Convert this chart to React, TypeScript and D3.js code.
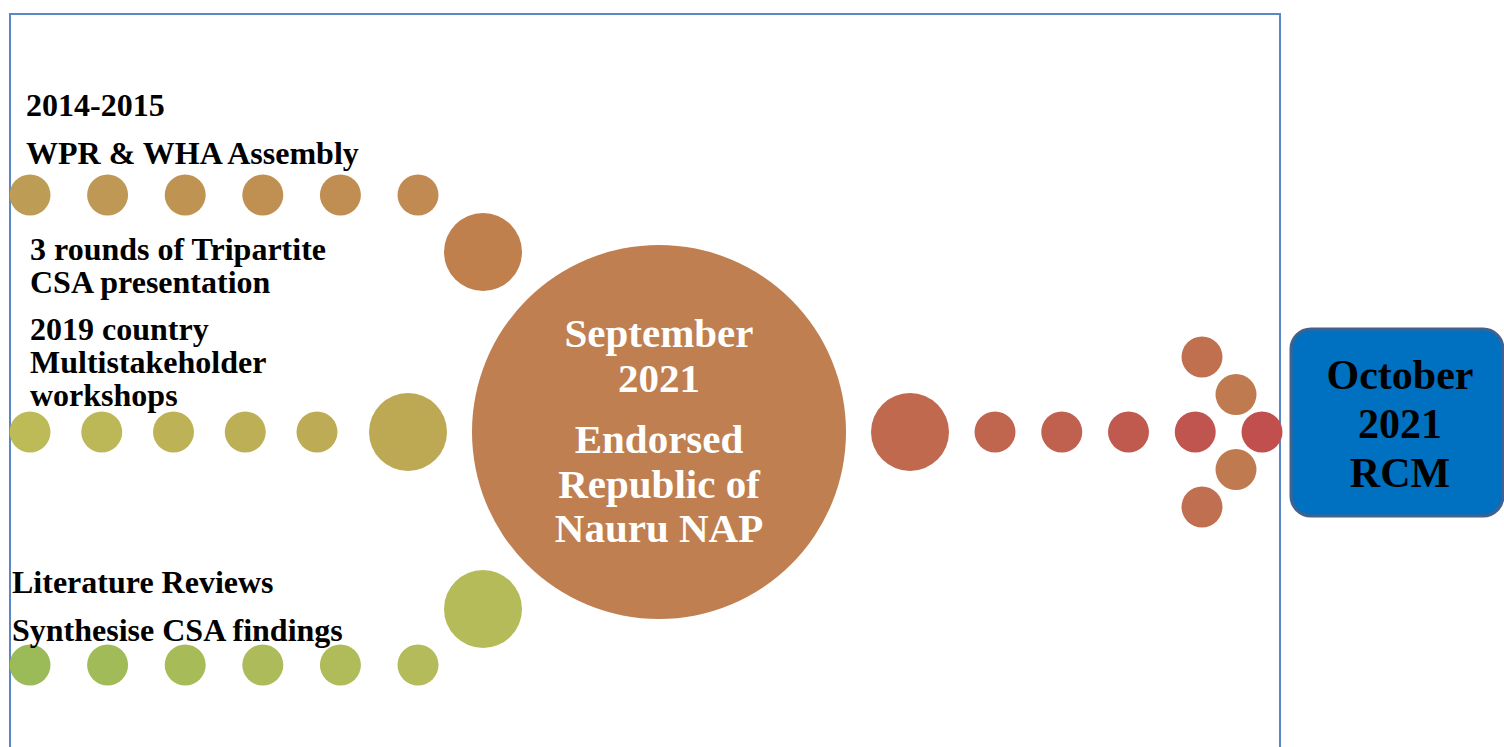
import React from "react";
import * as d3 from "d3";

// stage labels (left side, top to bottom)
const topLabels = ["2014-2015", "WPR & WHA Assembly"];
const upperLabels = ["3 rounds of Tripartite", "CSA presentation"];
const middleLabels = ["2019 country", "Multistakeholder", "workshops"];
const bottomLabels = ["Literature Reviews", "Synthesise CSA findings"];
const centerDate = ["September", "2021"];
const centerLabels = ["Endorsed", "Republic of", "Nauru NAP"];
const outcomeLabels = ["October", "2021", "RCM"];

// dot steps per track
const rows = ["top", "middle", "bottom"];
const topSteps = [0, 1, 2, 3, 4, 5];
const middleSteps = [0, 1, 2, 3, 4];
const bottomSteps = [0, 1, 2, 3, 4, 5];
const rightSteps = [0, 1, 2, 3, 4];
const arrowSteps = [-2, -1, 1, 2];

// colours
const topColors = ["#bd9c55", "#be9854", "#bf9453", "#c09053", "#c08d53", "#c18a53"];
const middleColors = ["#bcbb58", "#bcb757", "#bdb356", "#bdaf56", "#bdab55"];
const bottomColors = ["#9bbb59", "#a1bb59", "#a7bb59", "#adbb5a", "#b0bb5a", "#b3bb5a"];
const rightColors = ["#c0654e", "#c0604e", "#c05a4f", "#c0544e", "#c04f4d"];
const arrowColors = ["#c0704f", "#c07a50", "#c07a50", "#c07050"];

const W = 1504;
const H = 747;
const font = "'Liberation Serif', 'Times New Roman', serif";

export default function App() {
  const rowY = d3.scaleOrdinal<string, number>().domain(rows).range([195, 432, 665]);
  const xTop = d3.scaleLinear().domain([0, 5]).range([30, 418]);
  const xMid = d3.scaleLinear().domain([0, 4]).range([30, 317]);
  const xRight = d3.scaleLinear().domain([0, 4]).range([995, 1262]);
  const arrowDy = d3.scaleLinear().domain([-2, 2]).range([-75, 75]);
  const arrowDx = (s: number) => (Math.abs(s) === 2 ? -60 : -26);

  const cy = rowY("middle");
  const small = 20.5;
  const big = 39;
  const hub = 187;
  const hubX = 659;

  const lines = (arr: string[], x: number, y0: number, dy: number, size: number, fill = "#000", anchor = "start") =>
    arr.map((t, i) => (
      <text key={t + i} x={x} y={y0 + i * dy} fontFamily={font} fontWeight="bold" fontSize={size}
        fill={fill} textAnchor={anchor}>{t}</text>
    ));

  return (
    <svg width={W} height={H} style={{ position: "absolute", left: 0, top: 0, background: "#fff" }}>
      <rect x={10} y={14} width={1270} height={760} fill="none" stroke="#5b87c8" strokeWidth={2} />

      {/* top track */}
      {topSteps.map((s, i) => (
        <circle key={"t" + s} cx={xTop(s)} cy={rowY("top")} r={small} fill={topColors[i]} />
      ))}
      <circle cx={483} cy={252} r={big} fill="#c0804e" />

      {/* middle track */}
      {middleSteps.map((s, i) => (
        <circle key={"m" + s} cx={xMid(s)} cy={cy} r={small} fill={middleColors[i]} />
      ))}
      <circle cx={408} cy={cy} r={big} fill="#bda853" />

      {/* bottom track */}
      {bottomSteps.map((s, i) => (
        <circle key={"b" + s} cx={xTop(s)} cy={rowY("bottom")} r={small} fill={bottomColors[i]} />
      ))}
      <circle cx={483} cy={609} r={big} fill="#b5bb59" />

      {/* hub */}
      <circle cx={hubX} cy={cy} r={hub} fill="#bf7f50" />
      {lines(centerDate, hubX, 347, 45, 41, "#fff", "middle")}
      {lines(centerLabels, hubX, 453, 44.5, 41, "#fff", "middle")}

      {/* right arrow */}
      <circle cx={910} cy={cy} r={big} fill="#c0694f" />
      {rightSteps.map((s, i) => (
        <circle key={"r" + s} cx={xRight(s)} cy={cy} r={small} fill={rightColors[i]} />
      ))}
      {arrowSteps.map((s, i) => (
        <circle key={"a" + s} cx={xRight(4) + arrowDx(s)} cy={cy + arrowDy(s)} r={small} fill={arrowColors[i]} />
      ))}

      {/* outcome box */}
      <rect x={1291} y={329} width={212} height={187} rx={20} ry={20} fill="#0070c0" stroke="#41618f" strokeWidth={3} />
      {lines(outcomeLabels, 1400, 389, 49, 42, "#000", "middle")}

      {/* labels */}
      {lines(topLabels, 26, 116, 48, 32)}
      {lines(upperLabels, 30, 260, 33, 32)}
      {lines(middleLabels, 30, 340, 33, 32)}
      {lines(bottomLabels, 12, 593, 48, 32)}
    </svg>
  );
}
